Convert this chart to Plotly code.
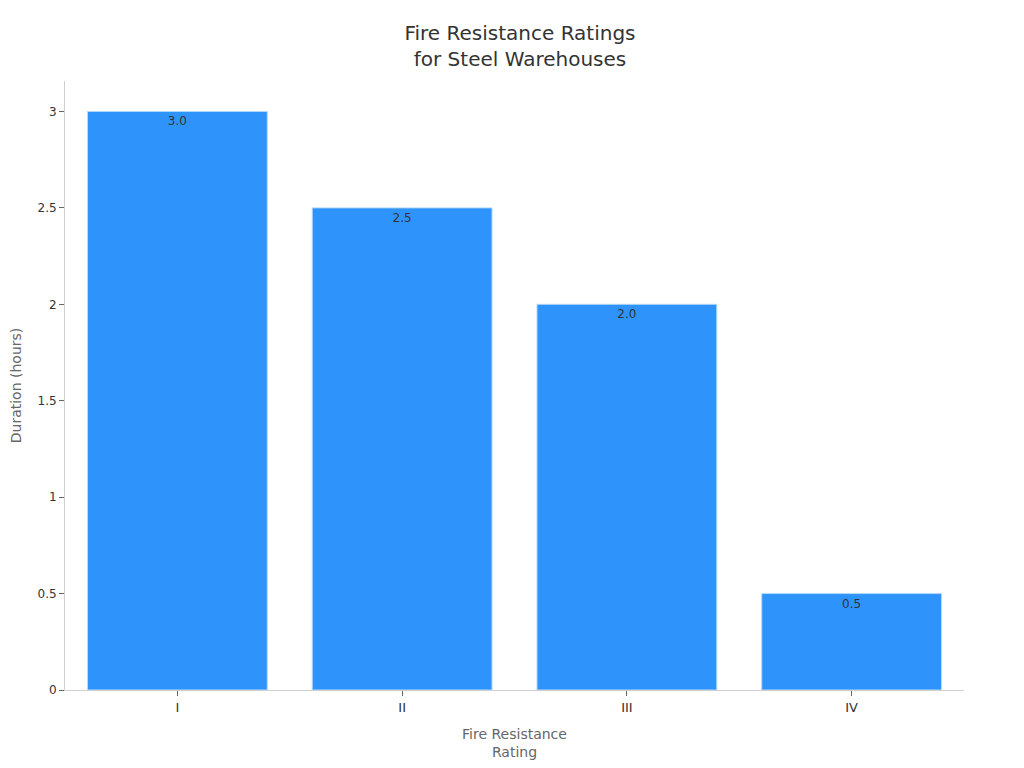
import plotly.graph_objects as go

# Fire resistance data
ratings = ['I', 'II', 'III', 'IV']
hours = [3.0, 2.5, 2.0, 0.5]

fig = go.Figure()
fig.add_trace(go.Bar(
    x=ratings,
    y=hours,
    text=[f'{h:.1f}' for h in hours],
    textposition='inside',
    insidetextanchor='end',
    insidetextfont=dict(color='#333333', size=12),
    marker=dict(color='#2E93FA', line=dict(color='#B5D8FC', width=1)),
    width=0.8,
))

fig.update_layout(
    title=dict(text='Fire Resistance Ratings<br>for Steel Warehouses', x=0.5, xanchor='center',
               y=0.958, yanchor='top', font=dict(size=20, color='#333333')),
    font=dict(family='DejaVu Sans', size=12, color='#333333'),
    plot_bgcolor='white',
    paper_bgcolor='white',
    width=1024,
    height=768,
    margin=dict(l=57, r=68, t=73, b=86),
    showlegend=False,
    xaxis=dict(
        title=dict(text='Fire Resistance<br>Rating', font=dict(size=14, color='#666666')),
        tickfont=dict(size=13),
        showline=True, linecolor='#d0d0d0', ticks='outside', tickcolor='#666666', ticklen=5,
        showgrid=False, automargin=False,
    ),
    yaxis=dict(
        title=dict(text='Duration (hours)', font=dict(size=14, color='#666666')),
        tickfont=dict(size=12),
        showline=True, linecolor='#d0d0d0', ticks='outside', tickcolor='#666666', ticklen=5,
        showgrid=False, zeroline=False, automargin=False,
    ),
)

fig.write_html('out.html')
